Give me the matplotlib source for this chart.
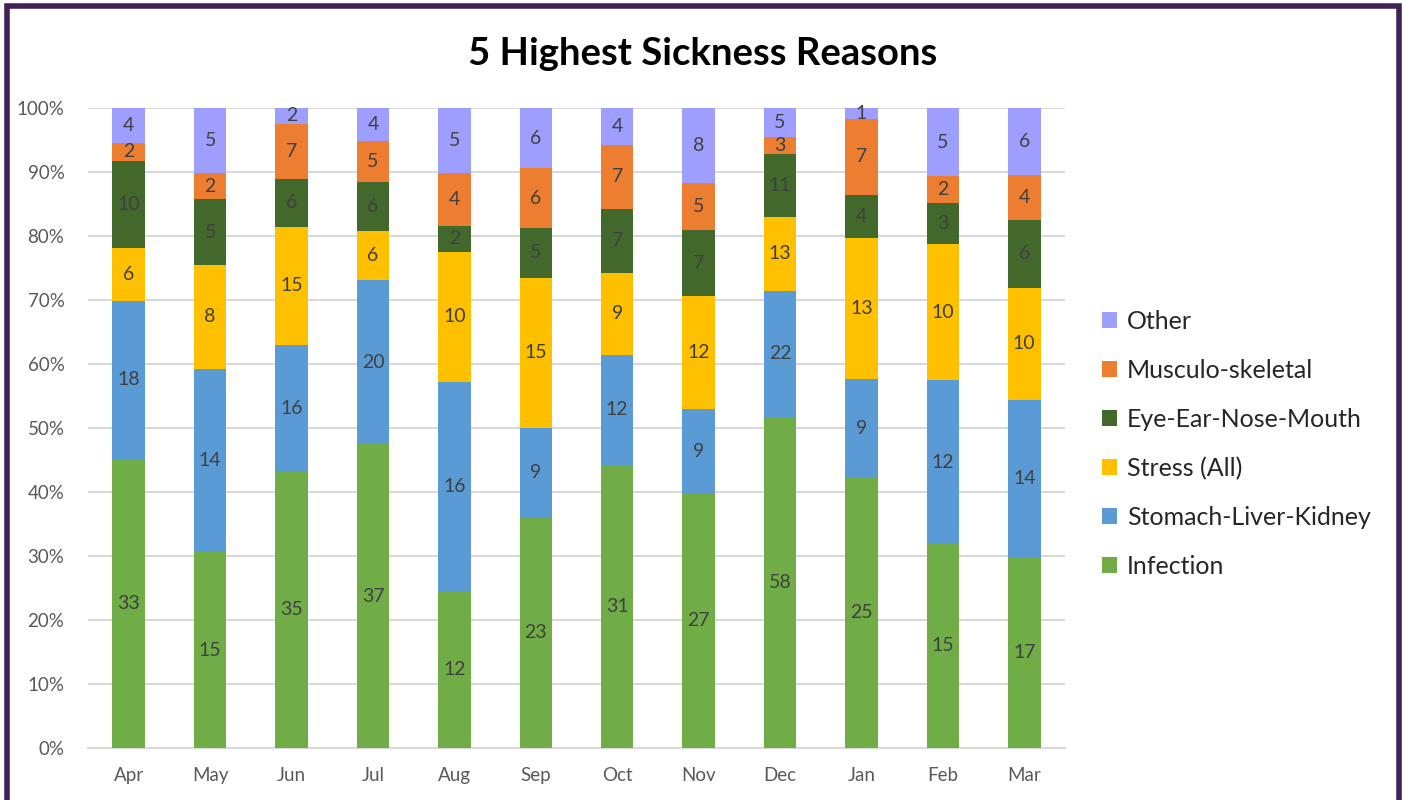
import matplotlib
matplotlib.use("Agg")
import matplotlib.pyplot as plt
from matplotlib.patches import Rectangle
import numpy as np

plt.rcParams['font.family'] = ['Lato', 'DejaVu Sans']

months = ["Apr", "May", "Jun", "Jul", "Aug", "Sep", "Oct", "Nov", "Dec", "Jan", "Feb", "Mar"]
series_names = ["Infection", "Stomach-Liver-Kidney", "Stress (All)",
                "Eye-Ear-Nose-Mouth", "Musculo-skeletal", "Other"]
infection = [33, 15, 35, 37, 12, 23, 31, 27, 58, 25, 15, 17]
stomach = [18, 14, 16, 20, 16, 9, 12, 9, 22, 9, 12, 14]
stress = [6, 8, 15, 6, 10, 15, 9, 12, 13, 13, 10, 10]
eye = [10, 5, 6, 6, 2, 5, 7, 7, 11, 4, 3, 6]
musculo = [2, 2, 7, 5, 4, 6, 7, 5, 3, 7, 2, 4]
other = [4, 5, 2, 4, 5, 6, 4, 8, 5, 1, 5, 6]
colors = ["#70AD47", "#5B9BD5", "#FFC000", "#43682B", "#ED7D31", "#9E9EFF"]

data = np.array([infection, stomach, stress, eye, musculo, other], dtype=float)
totals = data.sum(axis=0)
pct = data / totals * 100

fig = plt.figure(figsize=(14.02, 8.0), dpi=100)
ax = fig.add_axes([0.0628, 0.065, 0.6968, 0.80])

x = np.arange(len(months))
bottom = np.zeros(len(months))
handles = []
for i, name in enumerate(series_names):
    bars = ax.bar(x, pct[i], bottom=bottom, width=0.4, color=colors[i], label=name, zorder=3)
    ax.bar_label(bars, labels=[str(int(v)) for v in data[i]], label_type='center',
                 fontsize=14, color='#404040')
    handles.append(bars)
    bottom += pct[i]

ax.set_xlim(-0.5, len(months) - 0.5)
ax.set_ylim(0, 100)
ax.set_yticks(np.arange(0, 101, 10))
ax.set_yticklabels([f"{v}%" for v in range(0, 101, 10)])
ax.set_xticks(x)
ax.set_xticklabels(months)
ax.tick_params(axis='both', length=0, labelsize=13.5, labelcolor='#595959')
ax.tick_params(axis='y', pad=17)
ax.tick_params(axis='x', pad=14)
ax.grid(axis='y', color='#D9D9D9', linewidth=1.5, zorder=0)
for s in ['top', 'right', 'left']:
    ax.spines[s].set_visible(False)
ax.spines['bottom'].set_color('#D9D9D9')
ax.spines['bottom'].set_linewidth(1.5)

fig.text(0.5015, 0.933, "5 Highest Sickness Reasons", ha='center', va='center',
         fontsize=27.5, fontweight='bold', color='black')

leg = fig.legend(handles[::-1], series_names[::-1], loc='center left',
                 bbox_to_anchor=(0.770, 0.445), frameon=False, fontsize=18,
                 handlelength=0.6, handleheight=0.6, handletextpad=0.4,
                 labelspacing=1.04, labelcolor='#262626')

border = Rectangle((6.5 / 1402, -0.05), (1398.5 - 6.5) / 1402, 1.05 - 6.5 / 800,
                   transform=fig.transFigure, fill=False, edgecolor='#3F2355',
                   linewidth=4, clip_on=False)
fig.patches.append(border)

fig.savefig("out.png", dpi=100)
